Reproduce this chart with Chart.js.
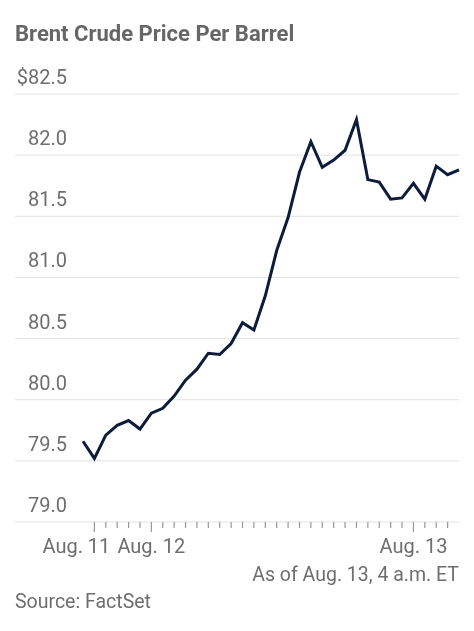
<!DOCTYPE html>
<html>
<head>
<meta charset="utf-8">
<script src="https://cdn.jsdelivr.net/npm/chart.js@4"></script>
<style>
  body{margin:0;background:#fff;font-family:Roboto,"Liberation Sans",sans-serif;}
  #wrap{position:relative;width:474px;height:631px;}
  #title{position:absolute;left:15px;top:21px;font-size:22px;font-weight:bold;color:#666;}
  #asof{position:absolute;right:15px;top:563px;font-size:19.5px;color:#6e6e6e;}
  #source{position:absolute;left:15px;top:590px;font-size:19.5px;color:#6e6e6e;}
</style>
</head>
<body>
<div id="wrap">
  <canvas id="myChart" width="474" height="631"></canvas>
  <div id="title">Brent Crude Price Per Barrel</div>
  <div id="asof">As of Aug. 13, 4 a.m. ET</div>
  <div id="source">Source: FactSet</div>
</div>
<script>
// price readings, one per tick
const prices = [79.66, 79.52, 79.71, 79.79, 79.83, 79.76, 79.89, 79.93, 80.03, 80.16,
  80.25, 80.38, 80.37, 80.46, 80.63, 80.57, 80.85, 81.22, 81.49, 81.86,
  82.11, 81.90, 81.96, 82.04, 82.29, 81.80, 81.78, 81.64, 81.65, 81.77,
  81.64, 81.91, 81.84, 81.88];
const labels = prices.map(function(p, i){ return i; });
// which points get a date label
const dateLabels = {1: "Aug. 11", 6: "Aug. 12", 29: "Aug. 13"};
const yTicks = [79.0, 79.5, 80.0, 80.5, 81.0, 81.5, 82.0, 82.5];

const axisPlugin = {
  id: 'axisPlugin',
  beforeDatasetsDraw: function(chart){
    var ctx = chart.ctx, y = chart.scales.y, x = chart.scales.x, area = chart.chartArea;
    ctx.save();
    ctx.font = '20px Roboto, "Liberation Sans", sans-serif';
    ctx.textAlign = 'right';
    ctx.textBaseline = 'bottom';
    for(var i = 0; i < yTicks.length; i++){
      var py = y.getPixelForValue(yTicks[i]);
      ctx.strokeStyle = '#e2e2e2';
      ctx.lineWidth = 1;
      ctx.beginPath(); ctx.moveTo(15, py); ctx.lineTo(area.right, py); ctx.stroke();
      ctx.fillStyle = '#6e6e6e';
      var txt = yTicks[i].toFixed(1);
      if(i == yTicks.length - 1) txt = '$' + txt;
      ctx.fillText(txt, 67, py - 5);
    }
    // x ticks
    ctx.strokeStyle = '#999';
    ctx.lineWidth = 1.2;
    ctx.textAlign = 'center';
    ctx.textBaseline = 'alphabetic';
    for(var j = 1; j < prices.length - 1; j++){
      var px = x.getPixelForValue(j);
      var len = dateLabels[j] ? 10 : 6;
      ctx.beginPath(); ctx.moveTo(px, area.bottom); ctx.lineTo(px, area.bottom + len); ctx.stroke();
      if(dateLabels[j]){
        ctx.fillText(dateLabels[j], j == 1 ? px - 18 : px, area.bottom + 31);
      }
    }
    ctx.restore();
  }
};

new Chart(document.getElementById("myChart").getContext("2d"), {
  type: 'line',
  data: {
    labels: labels,
    datasets: [{
      data: prices,
      borderColor: '#0c1c3a',
      borderWidth: 3,
      pointRadius: 0,
      tension: 0
    }]
  },
  options: {
    responsive: false,
    animation: false,
    layout: {padding: {top: 94, bottom: 109, left: 83, right: 15}},
    plugins: {legend: {display: false}, tooltip: {enabled: false}},
    scales: {
      x: {display: false, offset: false},
      y: {display: false, min: 79, max: 82.5}
    }
  },
  plugins: [axisPlugin]
});
</script>
</body>
</html>
